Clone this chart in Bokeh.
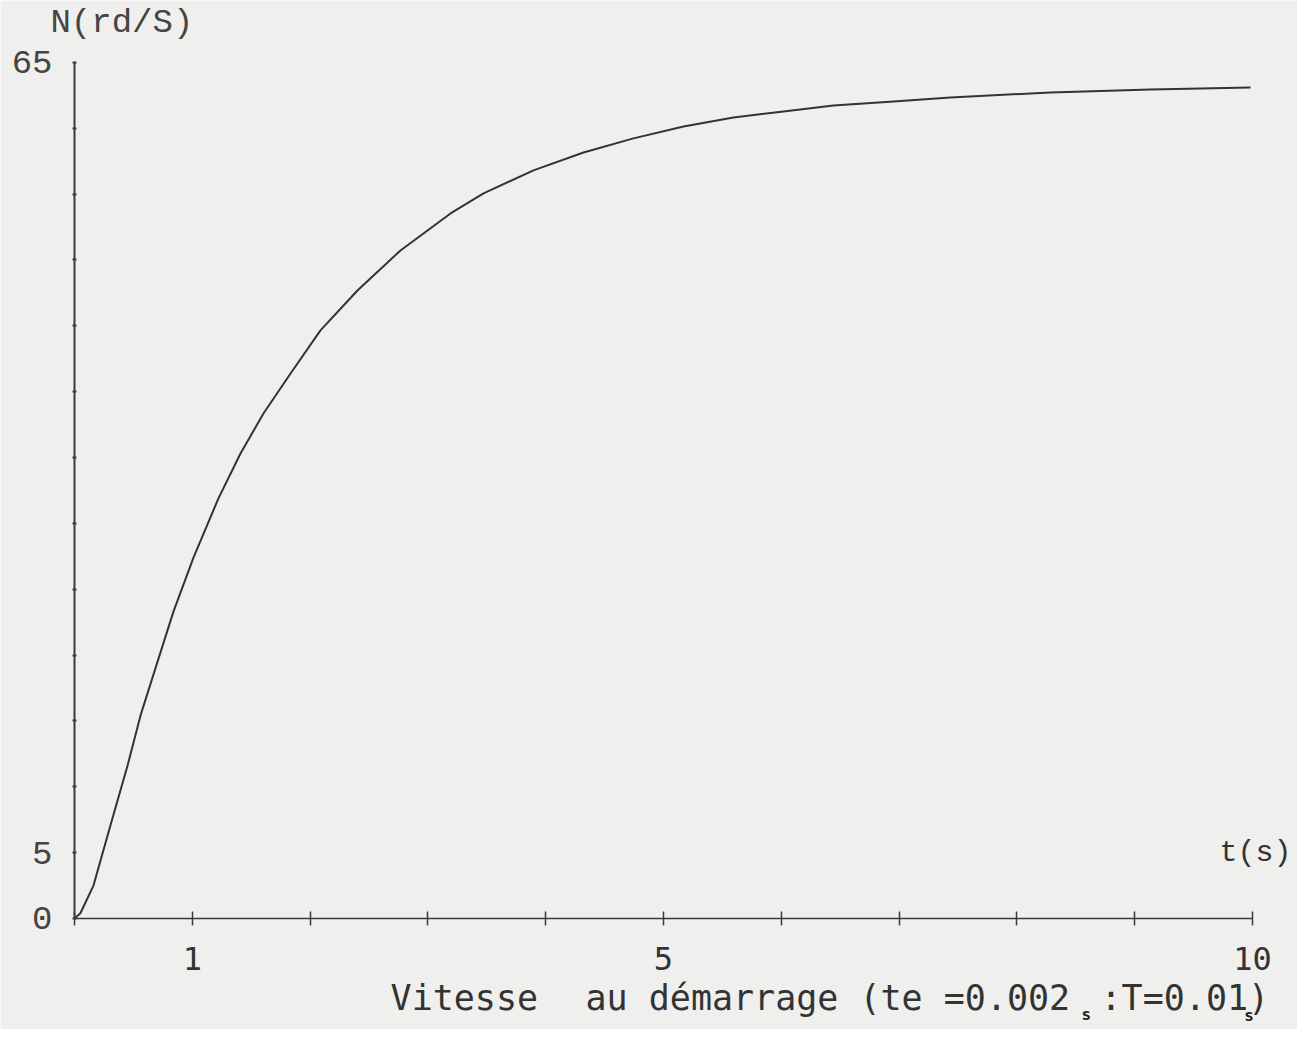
from bokeh.plotting import figure
from bokeh.models import Range1d, FixedTicker, Label
from bokeh.embed import file_html
from bokeh.resources import INLINE

# --- data ---
t = [0.0, 0.05, 0.161, 0.306, 0.450, 0.560, 0.705, 0.840, 1.010, 1.222, 1.409,
     1.604, 1.834, 2.088, 2.402, 2.767, 3.192, 3.472, 3.896, 4.321, 4.745,
     5.170, 5.594, 6.019, 6.443, 6.952, 7.436, 8.285, 9.134, 9.983]
N = [0.0, 0.4, 2.5, 7.1, 11.6, 15.4, 19.5, 23.3, 27.4, 31.9, 35.31,
     38.34, 41.38, 44.65, 47.68, 50.72, 53.53, 55.05, 56.80, 58.16, 59.23,
     60.14, 60.82, 61.28, 61.73, 62.04, 62.34, 62.72, 62.95, 63.10]

x_ticks = list(range(0, 11))
x_tick_labels = {1: "1", 5: "5", 10: "10"}
y_ticks = list(range(0, 70, 5))
y_tick_labels = {0: "0", 5: "5", 65: "65"}

y_title = "N(rd/S)"
x_title = "t(s)"
caption_a = "Vitesse"
caption_b = "au démarrage (te =0.002"
caption_c = ":T=0.01)"
sub = "s"

BG = "#efefed"
INK = "#333333"

# the frame covers the whole canvas; axes are pinned at t=0 / N=0
p = figure(width=1297, height=1029,
           min_border_left=0, min_border_top=0, min_border_right=0, min_border_bottom=0,
           x_range=Range1d(-0.6282, 10.382), y_range=Range1d(-8.428, 69.70),
           output_backend="svg", toolbar_location=None,
           background_fill_color=BG, border_fill_color=BG)
p.outline_line_color = None
p.grid.visible = False

p.line(t, N, line_color=INK, line_width=2)

# x axis
xa = p.xaxis[0]
xa.fixed_location = 0
xa.bounds = (0, 10)
xa.ticker = FixedTicker(ticks=x_ticks)
xa.major_label_overrides = {k: x_tick_labels.get(k, "") for k in x_ticks}
xa.axis_line_color = "#3a3a3a"
xa.axis_line_width = 1.5
xa.major_tick_line_color = "#3a3a3a"
xa.major_tick_line_width = 1.5
xa.major_tick_in = 7
xa.major_tick_out = 7
xa.minor_tick_line_color = None
xa.major_label_standoff = 22
xa.major_label_text_font = "DejaVu Sans Mono"
xa.major_label_text_font_size = "32px"
xa.major_label_text_color = "#333333"

# y axis
ya = p.yaxis[0]
ya.fixed_location = 0
ya.bounds = (0, 65)
ya.ticker = FixedTicker(ticks=y_ticks)
ya.major_label_overrides = {k: y_tick_labels.get(k, "") for k in y_ticks}
ya.axis_line_color = "#3a3a3a"
ya.axis_line_width = 2
ya.major_tick_line_color = "#3a3a3a"
ya.major_tick_line_width = 2
ya.major_tick_in = 2
ya.major_tick_out = 2
ya.minor_tick_line_color = None
ya.major_label_standoff = 20
ya.major_label_text_font = "Liberation Mono"
ya.major_label_text_font_size = "34px"
ya.major_label_text_color = "#444444"

def lab(x, y, text, font, size, align="left", bold=False, color="#333333"):
    p.add_layout(Label(x=x, y=y, text=text, text_font=font, text_font_size=size,
                       text_align=align, text_baseline="middle", text_color=color,
                       text_font_style="bold" if bold else "normal"))

lab(-0.204, 68.0, y_title, "Liberation Mono", "34px", color="#444444")
lab(9.72, 4.94, x_title, "Liberation Mono", "30px")
lab(2.683, -6.07, caption_a, "DejaVu Sans Mono", "35px")
lab(4.338, -6.07, caption_b, "DejaVu Sans Mono", "35px")
lab(8.71, -6.07, caption_c, "DejaVu Sans Mono", "35px")
lab(8.59, -7.29, sub, "DejaVu Sans Mono", "16px", align="center", bold=True, color="#222222")
lab(9.97, -7.36, sub, "DejaVu Sans Mono", "16px", align="center", bold=True, color="#222222")

open("out.html", "w").write(file_html(p, INLINE))
